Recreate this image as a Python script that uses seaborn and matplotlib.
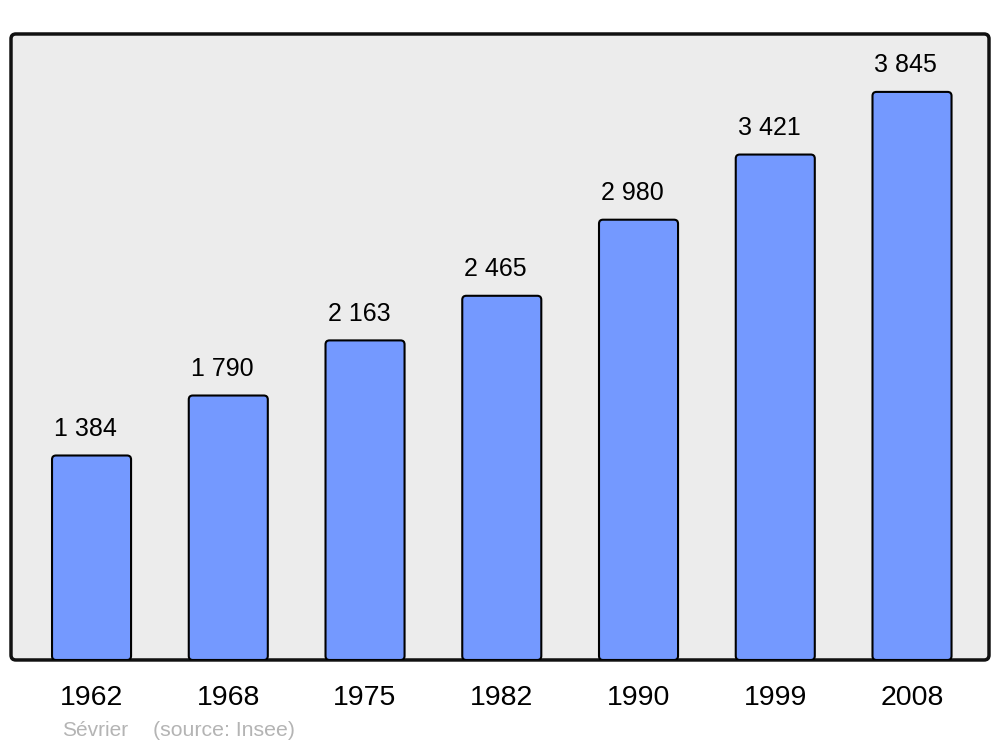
import matplotlib
matplotlib.use("Agg")
import matplotlib.pyplot as plt
from matplotlib.patches import FancyBboxPatch
import seaborn as sns
import pandas as pd

years = ["1962", "1968", "1975", "1982", "1990", "1999", "2008"]
population = [1384, 1790, 2163, 2465, 2980, 3421, 3845]
town = "Sévrier"
source = "(source: Insee)"

sns.set_style("white")
plt.rcParams["font.family"] = ["Liberation Sans", "DejaVu Sans"]

df = pd.DataFrame({"year": years, "pop": population})

fig = plt.figure(figsize=(10, 7.47), dpi=100)
ax = fig.add_axes([0.011, 0.1165, 0.978, 0.838])

sns.barplot(data=df, x="year", y="pop", color="#7499ff", saturation=1,
            width=0.578, ax=ax)

ax.set_xlim(-0.589, 6.563)
ax.set_ylim(0, 4237)

# rounded bars
x_px = 978 / (6.563 + 0.589)
y_px = 626 / 4237
for p in list(ax.patches):
    x, y = p.get_x(), p.get_y()
    w, h = p.get_width(), p.get_height()
    p.remove()
    r = 4 / x_px
    bar = FancyBboxPatch((x, y), w, h,
                         boxstyle=f"round,pad=0,rounding_size={r}",
                         mutation_aspect=(4 / y_px) / r,
                         facecolor="#7499ff", edgecolor="black",
                         linewidth=1.5, zorder=2)
    ax.add_patch(bar)

for i, v in enumerate(population):
    ax.text(i - 0.045, v + 182, f"{v:,}".replace(",", " "), ha="center",
            va="center", fontsize=18, color="black")

# rounded frame
ax.patch.set_visible(False)
for s in ax.spines.values():
    s.set_visible(False)
frame = FancyBboxPatch((0, 0), 1, 1, transform=ax.transAxes,
                       boxstyle="round,pad=0,rounding_size=0.005",
                       mutation_aspect=978 / 626,
                       facecolor="#ececec", edgecolor="#111111",
                       linewidth=2.5, zorder=0, clip_on=False)
ax.add_patch(frame)

ax.set_yticks([])
ax.set_xlabel("")
ax.set_ylabel("")
ax.tick_params(axis="x", length=0, pad=18, labelsize=20.5, labelcolor="black")

fig.text(0.062, 0.0215, town, fontsize=15, color="#b4b4b4", va="center")
fig.text(0.153, 0.0215, source, fontsize=15.3, color="#b4b4b4", va="center")

fig.savefig("out.png", dpi=100, facecolor="white")
